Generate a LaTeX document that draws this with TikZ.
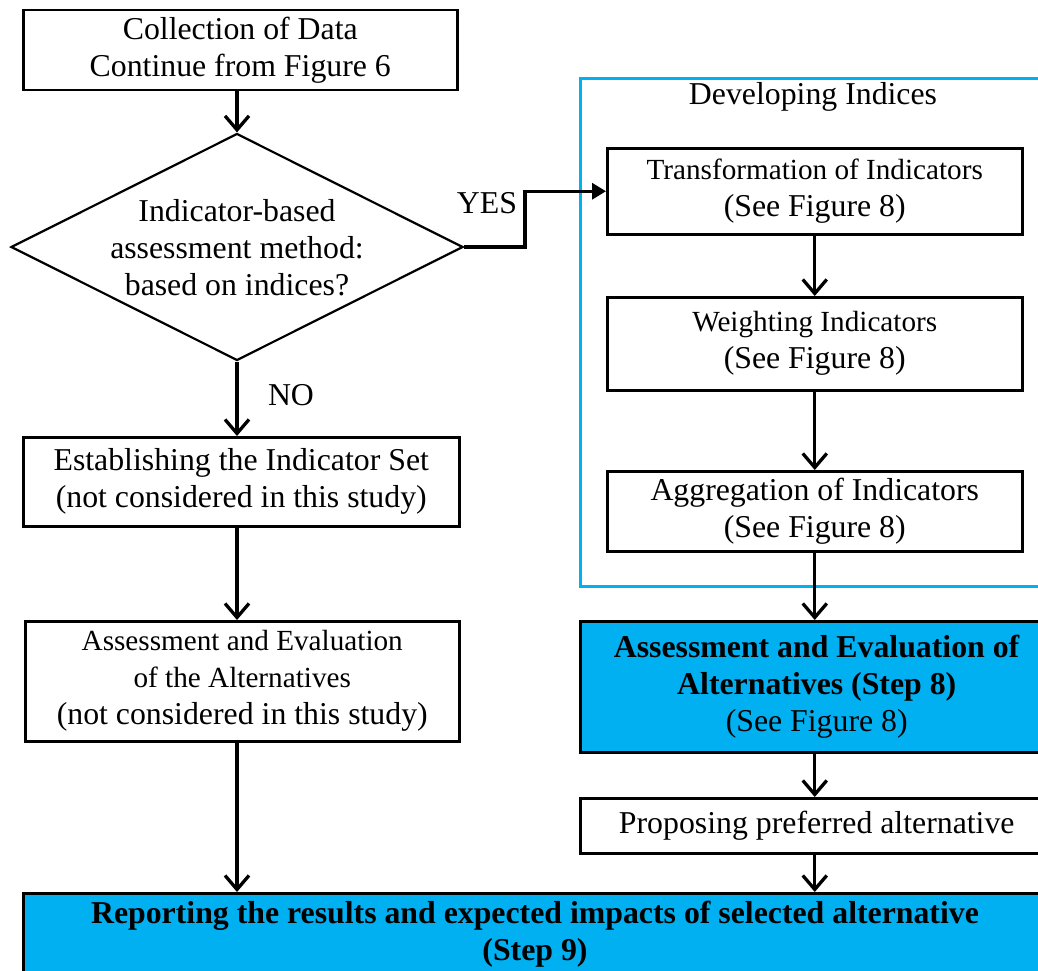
\documentclass[tikz,border=0pt]{standalone}
\usepackage{fontspec}
\setmainfont{Liberation Serif}
\usetikzlibrary{arrows.meta,shapes.geometric}
\definecolor{cyanbox}{HTML}{00B0F0}
\newcommand\fsA{\fontsize{31.8}{37}\selectfont}
\newcommand\fsB{\fontsize{29.2}{37}\selectfont}
\begin{document}
\begin{tikzpicture}[x=1pt,y=-1pt,
  box/.style={draw=black,line width=2.5pt,align=center,inner sep=0pt,font=\fsA,anchor=north west},
  bluebox/.style={box,fill=cyanbox},
  lbl/.style={font=\fsA,inner sep=0pt},
  arr/.style={line width=3.3pt,-{Straight Barb[length=14pt,width=24pt,line width=3.3pt]}},
  yesarr/.style={line width=3.3pt,-{Triangle[length=14pt,width=16pt]}}]
\useasboundingbox (0,0) rectangle (1038,971);
\clip (0,0) rectangle (1038,971);
% blue frame
\node[draw=cyanbox,line width=3pt,minimum width=473pt,minimum height=508pt,anchor=north west,inner sep=0pt] (frame) at (579,77) {};
\node[lbl] (devlbl) at (813,97) {Developing Indices};
% left column
\node[box,minimum width=434pt,minimum height=80pt] (c1) at (22,9) {Collection of Data\\Continue from Figure 6};
\node[draw=black,line width=2.2pt,shape=diamond,minimum width=452pt,minimum height=227pt,inner sep=0pt] (dia) at (237,247) {};
\node[lbl,align=center] (diatxt) at (237,248) {Indicator-based\\assessment method:\\based on indices?};
\node[box,minimum width=436pt,minimum height=89pt] (est) at (22,436) {Establishing the Indicator Set\\(not considered in this study)};
\node[box,minimum width=434pt,minimum height=120pt] (asl) at (24,620) {{\fsB Assessment and Evaluation}\\{\fsB of the Alternatives}\\(not considered in this study)};
% right column
\node[box,minimum width=415pt,minimum height=86pt] (t1) at (606,147) {{\fsB Transformation of Indicators}\\(See Figure 8)};
\node[box,minimum width=415pt,minimum height=93pt] (t2) at (606,296) {{\fsB Weighting Indicators}\\(See Figure 8)};
\node[box,minimum width=415pt,minimum height=80pt] (t3) at (606,470) {Aggregation of Indicators\\(See Figure 8)};
\node[bluebox,minimum width=473pt,minimum height=131pt] (asr) at (579,620) {\textbf{Assessment and Evaluation of}\\\textbf{Alternatives (Step 8)}\\(See Figure 8)};
\node[box,minimum width=473pt,minimum height=55pt] (prop) at (579,797) {Proposing preferred alternative};
\node[bluebox,minimum width=1026pt,minimum height=100pt,anchor=north west] (rep) at (22,892) {};
\node[lbl,align=center,font=\fsA\bfseries] (reptxt) at (535,934) {Reporting the results and expected impacts of selected alternative\\(Step 9)};
% labels
\node[lbl] (yes) at (487,203) {YES};
\node[lbl] (no) at (291,395) {NO};
% connectors
\draw[arr] (c1.south -| dia.north) -- (dia.north);
\draw[yesarr] (dia.east) -- ++(61,0) |- (t1.west);
\draw[arr] (dia.south) -- (dia.south |- est.north);
\draw[arr] (dia.south |- est.south) -- (dia.south |- asl.north);
\draw[arr] (dia.south |- asl.south) -- (dia.south |- rep.north);
\draw[arr] (t1.south) -- (t2.north);
\draw[arr] (t2.south) -- (t3.north);
\draw[arr] (t3.south) -- (t3.south |- asr.north);
\draw[arr] (t3.south |- asr.south) -- (t3.south |- prop.north);
\draw[arr] (t3.south |- prop.south) -- (t3.south |- rep.north);
\end{tikzpicture}
\end{document}
